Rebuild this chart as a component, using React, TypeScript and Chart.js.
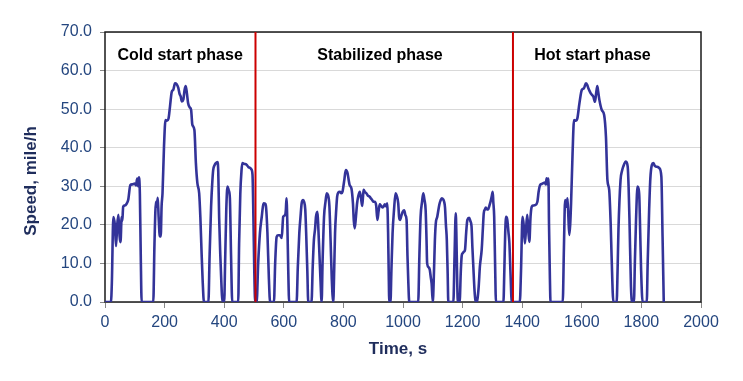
import React, { useEffect, useRef } from "react";
import { Chart, registerables } from "chart.js";

Chart.register(...registerables);

// FTP-75 speed trace: [time s, speed mile/h]
const coldStartPhase: [number, number][] = [
  [0, 0], [20, 0], [23, 5], [28, 22], [33, 20], [37, 14.5], [41, 20], [45, 22.6], [49, 17], [52, 15.5],
  [56, 22], [58, 21], [61, 24.7], [66, 25], [72, 25.4], [78, 26.5], [85, 30.3], [92, 30.5], [100, 30.7], [104, 30.2],
  [108, 32], [111, 30], [114, 32.3], [117, 28], [120, 12], [123, 0], [162, 0], [166, 15], [171, 26], [174, 24.7],
  [177, 27], [180, 22], [184, 17], [187, 17], [190, 25], [193, 28.2], [198, 40.3], [203, 47.2], [208, 47], [213, 47.5],
  [218, 50.6], [224, 54.5], [229, 55], [235, 56.7], [240, 56.5], [246, 55.5], [250, 54], [254, 53.3], [258, 52], [263, 52.5],
  [267, 55], [271, 56], [275, 54], [279, 51.5], [284, 50.5], [289, 49.8], [293, 46], [300, 44.6], [305, 36], [310, 30.8],
  [316, 28.2], [320, 22], [324, 13], [328, 5], [332, 0], [347, 0], [351, 12], [356, 24.7], [360, 31], [363, 34.2],
  [368, 35.5], [372, 36], [377, 36.3], [380, 34], [383, 22], [387, 12], [391, 4], [394, 0], [400, 0], [403, 10],
  [407, 24], [411, 29.9], [415, 29], [419, 27], [423, 12], [427, 0], [447, 0], [450, 15], [454, 28], [458, 34],
  [461, 36], [468, 35.8], [475, 35.6], [481, 35], [486, 34.8], [491, 34.4], [495, 33], [498, 22], [501, 8], [504, 0],
];

const stabilizedPhase: [number, number][] = [
  [505, 0], [509, 0], [514, 10], [520, 18], [526, 22.1], [530, 24.8], [533, 25.6], [537, 25.5], [540, 24.9], [545, 18],
  [550, 6], [554, 0], [567, 0], [571, 10], [576, 16.9], [581, 17.3], [587, 17.3], [593, 16.6], [598, 22.1], [604, 22.5],
  [607, 24], [609, 26.9], [612, 20], [615, 8], [618, 0], [643, 0], [647, 9], [652, 17.8], [656, 22], [660, 25.6],
  [665, 26.4], [668, 26], [672, 24], [675, 18], [679, 8], [682, 0], [693, 0], [697, 9], [701, 16.1], [705, 19],
  [708, 22.1], [713, 23.4], [716, 19], [719, 13.5], [723, 6], [727, 0], [730, 10], [735, 22.1], [740, 26], [744, 28.2],
  [748, 27.8], [753, 24.9], [757, 16], [761, 6], [766, 0], [769, 8], [772, 17.9], [776, 24], [779, 27.3], [783, 28.4],
  [788, 28.6], [793, 28.2], [797, 28.6], [800, 30], [803, 31.6], [808, 34.2], [811, 34], [814, 33.4], [818, 31.5], [821, 30.3],
  [827, 29.4], [832, 25.6], [835, 21], [838, 19.1], [842, 22], [846, 25.6], [850, 27.5], [855, 28.6], [859, 27], [863, 24.9],
  [866, 27.5], [868, 29.1], [872, 28.5], [877, 28.2], [882, 27.6], [888, 27.3], [893, 26.8], [897, 26.4], [901, 26], [905, 26],
  [910, 25], [914, 21.3], [918, 23.5], [922, 25.3], [926, 25], [931, 24.5], [935, 24.8], [939, 25.3], [943, 24.8], [947, 25.6],
  [950, 18], [952, 8], [954, 0], [958, 0], [961, 8], [965, 17.8], [970, 24], [975, 28.2], [979, 27.5], [984, 25.6],
  [987, 22], [990, 21.3], [995, 22.5], [999, 23.4], [1004, 23.8], [1008, 22.5], [1012, 21.3], [1015, 12], [1018, 4.8], [1021, 0],
  [1051, 0], [1055, 12], [1059, 22.1], [1064, 26], [1068, 28.2], [1072, 26.5], [1076, 23.8], [1079, 16], [1081, 10], [1086, 9],
  [1090, 8.3], [1093, 6.5], [1096, 4.8], [1100, 0], [1104, 8], [1107, 16], [1110, 20.4], [1115, 22.1], [1122, 25.3], [1126, 26.3],
  [1130, 26.9], [1135, 26.6], [1138, 26], [1141, 24.5], [1144, 20], [1147, 16.1], [1150, 7], [1152, 0], [1169, 0], [1173, 12],
  [1177, 23], [1179, 18], [1182, 5], [1184, 0], [1190, 0], [1194, 8], [1197, 12], [1200, 12.6], [1204, 13], [1208, 13.5],
  [1212, 18], [1216, 21.3], [1222, 21.8], [1226, 21], [1230, 19.6], [1233, 14], [1236, 9.2], [1240, 3], [1243, 0.5], [1247, 0],
  [1250, 0.8], [1254, 4], [1258, 9.2], [1264, 13.5], [1268, 19], [1271, 23], [1275, 24], [1278, 24.5], [1282, 24], [1286, 24],
  [1290, 25], [1294, 26.1], [1298, 27.5], [1301, 28.6], [1303, 26], [1306, 22.1], [1309, 10], [1312, 0], [1337, 0], [1340, 8],
  [1343, 18], [1346, 22.1], [1350, 21.3], [1354, 18], [1357, 15.3], [1361, 7], [1365, 0],
];

const hotStartPhase: [number, number][] = [
  [1369, 0], [1392, 0], [1396, 8], [1401, 22.1], [1405, 20], [1409, 15.2], [1413, 19], [1417, 22.6], [1421, 18], [1424, 15.6],
  [1428, 22.1], [1432, 24.7], [1437, 25], [1443, 25.1], [1451, 26], [1455, 28.5], [1460, 30.3], [1466, 30.6], [1471, 30.8], [1476, 31],
  [1479, 30.5], [1482, 32.1], [1485, 30.5], [1488, 32], [1490, 20], [1493, 6], [1495, 0], [1536, 0], [1540, 14], [1544, 26.4],
  [1546, 25], [1549, 24.7], [1552, 26.9], [1555, 22], [1558, 17.4], [1561, 20], [1564, 25.6], [1569, 38.5], [1574, 47.2], [1579, 47],
  [1585, 47.6], [1592, 51.5], [1600, 55], [1607, 55.4], [1614, 56.7], [1618, 56.3], [1622, 55.4], [1630, 54.1], [1639, 53.2], [1644, 51.9],
  [1648, 54], [1652, 56], [1655, 54.5], [1659, 52.4], [1667, 49.8], [1675, 48.5], [1681, 42.9], [1686, 31.6], [1692, 29], [1697, 20],
  [1700, 11.8], [1706, 0], [1717, 0], [1720, 8], [1723, 18.7], [1730, 31.6], [1735, 34], [1739, 35.1], [1748, 36.4], [1754, 35.1],
  [1757, 30], [1760, 21.3], [1765, 4], [1769, 0], [1775, 0], [1778, 10], [1782, 21.3], [1787, 29.9], [1790, 29.5], [1793, 27.3],
  [1796, 18], [1799, 8.3], [1804, 0], [1818, 0], [1821, 10], [1826, 23.9], [1830, 32], [1835, 35.5], [1840, 36], [1845, 35.3],
  [1849, 35.1], [1855, 35], [1860, 34.7], [1867, 32.5], [1871, 17], [1875, 0],
];

const phaseBoundaries = [505, 1369];
const phaseNames = ["Cold start phase", "Stabilized phase", "Hot start phase"];
const phaseLabelTimes = [252, 923, 1636];
const phaseLabelLevel = 63.8;

const xTitle = "Time, s";
const yTitle = "Speed, mile/h";

const FONT = "'Liberation Sans', Arial, sans-serif";
const TICK_COLOR = "#24467f";
const TITLE_COLOR = "#1f2d5c";

const overlay = {
  id: "overlay",
  beforeDatasetsDraw(chart: any) {
    const { ctx, chartArea } = chart;
    ctx.save();
    ctx.strokeStyle = "#1a1a1a";
    ctx.lineWidth = 1.5;
    ctx.strokeRect(chartArea.left, chartArea.top, chartArea.right - chartArea.left, chartArea.bottom - chartArea.top);
    ctx.restore();
  },
  afterDraw(chart: any) {
    const { ctx, chartArea, scales } = chart;
    ctx.save();
    ctx.fillStyle = "#000";
    ctx.font = `bold 16px ${FONT}`;
    ctx.textAlign = "center";
    ctx.textBaseline = "middle";
    const ly = scales.y.getPixelForValue(phaseLabelLevel);
    phaseNames.forEach((name, i) => {
      ctx.fillText(name, scales.x.getPixelForValue(phaseLabelTimes[i]), ly);
    });
    ctx.fillStyle = TITLE_COLOR;
    ctx.font = `bold 17px ${FONT}`;
    ctx.fillText(xTitle, (chartArea.left + chartArea.right) / 2 - 5, 349);
    ctx.translate(31, (chartArea.top + chartArea.bottom) / 2 + 14);
    ctx.rotate(-Math.PI / 2);
    ctx.fillText(yTitle, 0, 0);
    ctx.restore();
  },
};

export default function App() {
  const ref = useRef<HTMLCanvasElement>(null);
  useEffect(() => {
    document.body.style.margin = "0";
    const toPts = (arr: [number, number][]) => arr.map(([x, y]) => ({ x, y }));
    const trace = [...toPts(coldStartPhase), ...toPts(stabilizedPhase), ...toPts(hotStartPhase)];
    const boundaryDatasets = phaseBoundaries.map((b) => ({
      data: [{ x: b, y: 0 }, { x: b, y: 70 }],
      borderColor: "#cc0000",
      borderWidth: 2,
      pointRadius: 0,
      tension: 0,
    }));
    const chart = new Chart(ref.current as HTMLCanvasElement, {
      type: "line",
      data: {
        datasets: [
          ...boundaryDatasets,
          {
            data: trace,
            borderColor: "#333399",
            borderWidth: 2.6,
            pointRadius: 0,
            cubicInterpolationMode: "monotone",
            borderJoinStyle: "round",
            borderCapStyle: "round",
          },
        ] as any,
      },
      options: {
        responsive: false,
        animation: false,
        devicePixelRatio: 1,
        layout: { padding: { left: 0, right: 42, top: 32, bottom: 0 } },
        plugins: { legend: { display: false }, tooltip: { enabled: false } },
        scales: {
          x: {
            type: "linear",
            min: 0,
            max: 2000,
            afterFit: (s: any) => {
              s.height = 79;
            },
            ticks: {
              stepSize: 200,
              autoSkip: false,
              maxRotation: 0,
              color: TICK_COLOR,
              padding: 5,
              font: { family: FONT, size: 16 },
              callback: (v: any) => String(v),
            },
            grid: { drawOnChartArea: false, tickLength: 6, tickColor: "#888", color: "#888" },
            border: { display: false },
          },
          y: {
            min: 0,
            max: 70,
            afterFit: (s: any) => {
              s.width = 105;
            },
            ticks: {
              stepSize: 10,
              color: TICK_COLOR,
              padding: 8,
              font: { family: FONT, size: 16 },
              callback: (v: any) => Number(v).toFixed(1),
            },
            grid: { color: "#d9d9d9", tickColor: "#888", tickLength: 5 },
            border: { display: false },
          },
        },
      } as any,
      plugins: [overlay],
    });
    return () => chart.destroy();
  }, []);
  return (
    <div style={{ width: 743, height: 381 }}>
      <canvas ref={ref} width={743} height={381} style={{ display: "block" }} />
    </div>
  );
}
